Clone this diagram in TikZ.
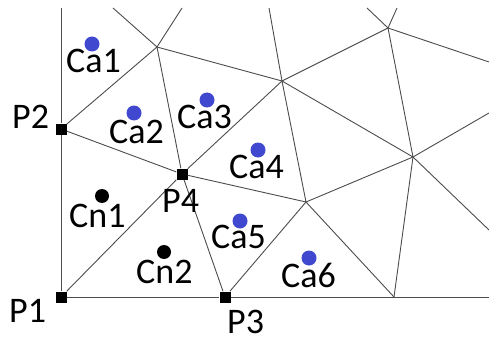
\documentclass[tikz,border=0pt]{standalone}
\usepackage{fontspec}
\setmainfont{Carlito}
\usepackage{tikz}
\definecolor{caBlue}{RGB}{64,72,208}

\begin{document}
\begin{tikzpicture}[x=1pt,y=-1pt,
      mesh/.style={draw=black!70,line width=0.9pt},
      corner node/.style={fill=black,minimum size=11pt,inner sep=0pt},
      ca dot/.style={circle,fill=caBlue,minimum size=15pt,inner sep=0pt},
      cn dot/.style={circle,fill=black,minimum size=14pt,inner sep=0pt},
      lbl/.style={anchor=base west,inner sep=0pt,font=\fontsize{36}{42}\selectfont}]
      \useasboundingbox (0,0) rectangle (489,342);

      % corner points
      \node[corner node] (p1) at (61,297) {};
      \node[corner node] (p2) at (61,129) {};
      \node[corner node] (p3) at (225,297) {};
      \node[corner node] (p4) at (182,174) {};

      % other mesh vertices and cut points on the border
      \coordinate (a) at (157,47);
      \coordinate (b) at (282,81);
      \coordinate (c) at (388,28);
      \coordinate (d) at (413,157);
      \coordinate (e) at (306,202);
      \coordinate (f) at (394,297);
      \coordinate (tl) at (61,8);
      \coordinate (t1) at (113,8);
      \coordinate (t2) at (182,8);
      \coordinate (t3) at (269,8);
      \coordinate (t4) at (367,8);
      \coordinate (t5) at (397,8);
      \coordinate (r1) at (489,62);
      \coordinate (r2) at (489,113);
      \coordinate (r3) at (489,230);
      \coordinate (r4) at (489,297);

      \path[mesh]
        (tl) edge (p2)
        (p2) edge (p1)
        (p1) edge (p3)
        (p3) edge (f)
        (f) edge (r4)
        (p2) edge (a)
        (p2) edge (p4)
        (a) edge (t1)
        (a) edge (t2)
        (a) edge (b)
        (a) edge (p4)
        (p4) edge (b)
        (b) edge (t3)
        (b) edge (c)
        (b) edge (d)
        (b) edge (e)
        (c) edge (t4)
        (c) edge (t5)
        (c) edge (r1)
        (c) edge (d)
        (d) edge (r2)
        (d) edge (r3)
        (d) edge (e)
        (d) edge (f)
        (p4) edge (e)
        (e) edge (p3)
        (e) edge (f)
        (p4) edge (p3)
        (p4) edge (p1);

      % cells
      \node[ca dot] (ca1) at (92,44) {};
      \node[ca dot] (ca2) at (134,113) {};
      \node[ca dot] (ca3) at (207,100) {};
      \node[ca dot] (ca4) at (258,150) {};
      \node[ca dot] (ca5) at (240,221) {};
      \node[ca dot] (ca6) at (309,258) {};
      \node[cn dot] (cn1) at (102,196) {};
      \node[cn dot] (cn2) at (164,252) {};

      % labels
      \node[lbl] (ca1 text) at (66,73) {Ca1};
      \node[lbl] (ca2 text) at (109,143) {Ca2};
      \node[lbl] (ca3 text) at (177,128) {Ca3};
      \node[lbl] (ca4 text) at (229,178) {Ca4};
      \node[lbl] (ca5 text) at (211,248) {Ca5};
      \node[lbl] (ca6 text) at (281,287) {Ca6};
      \node[lbl] (cn1 text) at (69,227) {Cn1};
      \node[lbl] (cn2 text) at (136,283) {Cn2};
      \node[lbl] (p1 text) at (9,322) {P1};
      \node[lbl] (p2 text) at (12,128) {P2};
      \node[lbl] (p3 text) at (227,333) {P3};
      \node[lbl] (p4 text) at (162,212) {P4};
\end{tikzpicture}
\end{document}
